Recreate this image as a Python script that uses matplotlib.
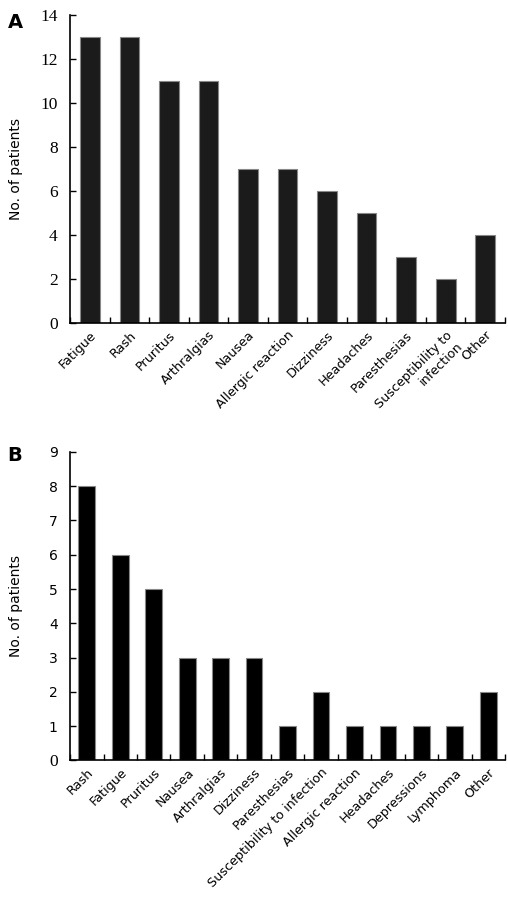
import matplotlib
matplotlib.use("Agg")
import matplotlib.pyplot as plt
import numpy as np

# ── Data ─────────────────────────────────────────────────────────────────────

cats_a = ["Fatigue", "Rash", "Pruritus", "Arthralgias", "Nausea",
          "Allergic reaction", "Dizziness", "Headaches", "Paresthesias",
          "Susceptibility to\ninfection", "Other"]
vals_a = [13, 13, 11, 11, 7, 7, 6, 5, 3, 2, 4]

cats_b = ["Rash", "Fatigue", "Pruritus", "Nausea", "Arthralgias", "Dizziness",
          "Paresthesias", "Susceptibility to infection", "Allergic reaction",
          "Headaches", "Depressions", "Lymphoma", "Other"]
vals_b = [8, 6, 5, 3, 3, 3, 1, 2, 1, 1, 1, 1, 2]

ticks_a = [0, 2, 4, 6, 8, 10, 12, 14]
ticks_b = list(range(0, 10))

# ── Plot ─────────────────────────────────────────────────────────────────────

fig = plt.figure(figsize=(5.08, 9.02), dpi=100)
ax_a = fig.add_axes([0.138, 0.642, 0.856, 0.341])
ax_b = fig.add_axes([0.138, 0.157, 0.856, 0.342])


def draw(ax, cats, vals, ticks, color, tick_font, tick_size):
    x = np.arange(len(cats))
    ax.bar(x, vals, width=0.5, color=color, edgecolor="#888888", lw=0.8)
    ax.set_xlim(-0.5, len(cats) - 0.5)
    ax.set_ylim(0, ticks[-1])
    ax.set_yticks(ticks)
    ax.set_yticklabels([str(t) for t in ticks], family=tick_font,
                       fontsize=tick_size)
    # category labels, ticks sit between bars
    ax.set_xticks(x)
    ax.set_xticklabels(cats, rotation=45, ha="right", rotation_mode="anchor",
                       fontsize=9.2, family="DejaVu Sans")
    ax.tick_params(axis="x", length=0, pad=4)
    ax.set_xticks(np.arange(len(cats) + 1) - 0.5, minor=True)
    ax.tick_params(axis="x", which="minor", direction="in", length=4, width=1)
    ax.tick_params(axis="y", direction="in", length=4, width=1, pad=9)
    for s in ["top", "right"]:
        ax.spines[s].set_visible(False)
    for s in ["left", "bottom"]:
        ax.spines[s].set_linewidth(1.2)
    ax.set_ylabel("No. of patients", fontsize=10)
    ax.yaxis.set_label_coords(-0.108, 0.5)


draw(ax_a, cats_a, vals_a, ticks_a, "#1b1b1b", "Liberation Serif", 12.5)
draw(ax_b, cats_b, vals_b, ticks_b, "#000000", "DejaVu Sans", 10)
# the zero on panel B is serif in the original
ax_b.get_yticklabels()[0].set_family("Liberation Serif")
ax_b.get_yticklabels()[0].set_fontsize(12.5)

fig.text(0.015, 0.975, "A", fontsize=14, fontweight="bold", va="center")
fig.text(0.015, 0.495, "B", fontsize=14, fontweight="bold", va="center")

plt.savefig("out.png", dpi=100)
